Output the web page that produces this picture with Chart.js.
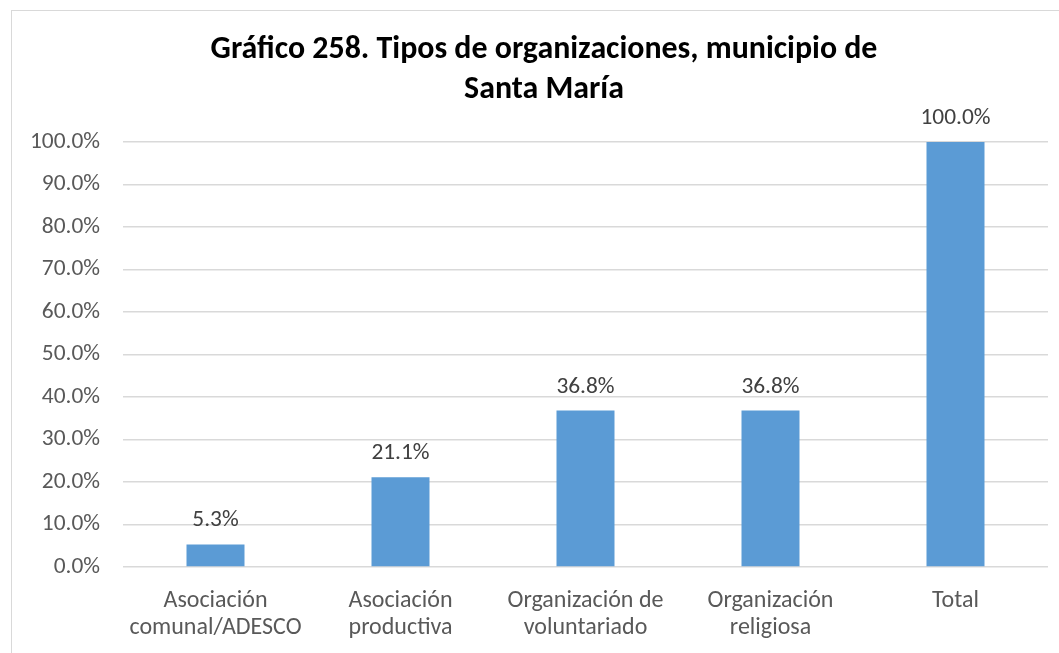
<!DOCTYPE html>
<html>
<head>
<meta charset="utf-8">
<script src="https://cdn.jsdelivr.net/npm/chart.js@4.4.0/dist/chart.umd.min.js"></script>
<style>
  html, body { margin: 0; padding: 0; background: #ffffff; overflow: hidden; }
  #wrap { position: relative; width: 1059px; height: 653px; }
  #frame { position: absolute; left: 11px; top: 10px; width: 1200px; height: 800px; border: 1px solid #d9d9d9; box-sizing: border-box; }
  #c { position: absolute; left: 0; top: 0; }
</style>
</head>
<body>
<div id="wrap">
  <div id="frame"></div>
  <canvas id="c" width="1059" height="653"></canvas>
</div>
<script>
const titleLines = ["Gráfico 258. Tipos de organizaciones, municipio de", "Santa María"];
const categories = [["Asociación", "comunal/ADESCO"], ["Asociación", "productiva"], ["Organización de", "voluntariado"], ["Organización", "religiosa"], ["Total"]];
const values = [5.3, 21.1, 36.8, 36.8, 100.0];
const yMin = 0, yMax = 100, yStep = 10;

const FONT = "Carlito, Lato, 'Open Sans', sans-serif";

// fit font sizes to the widths of reference texts
const mctx = document.createElement('canvas').getContext('2d');
function fitSize(text, target, weight) {
  mctx.font = (weight || '') + " 100px " + FONT;
  return Math.round(100 * target / mctx.measureText(text).width * 10) / 10;
}
const titleSize = fitSize(titleLines[0], 666, 'bold');
const tickSize = fitSize("100.0%", 70, '');
const xSize = fitSize("Organización de", 156, '');

// title centred on the chart frame (Excel-style), drawn above the plot
const titlePlugin = {
  id: 'frameTitle',
  afterDraw(chart) {
    const ctx = chart.ctx;
    ctx.save();
    ctx.font = "bold " + titleSize + "px " + FONT;
    ctx.fillStyle = "#000000";
    ctx.textAlign = "center";
    ctx.textBaseline = "middle";
    titleLines.forEach((line, i) => ctx.fillText(line, 544, 50 + i * 40));
    ctx.restore();
  }
};

const labelPlugin = {
  id: 'barLabels',
  afterDatasetsDraw(chart) {
    const ctx = chart.ctx;
    const meta = chart.getDatasetMeta(0);
    ctx.save();
    ctx.font = tickSize + "px " + FONT;
    ctx.fillStyle = "#404040";
    ctx.textAlign = "center";
    ctx.textBaseline = "alphabetic";
    meta.data.forEach((bar, i) => {
      ctx.fillText(values[i].toFixed(1) + "%", bar.x, bar.y - 18);
    });
    ctx.restore();
  }
};

new Chart(document.getElementById('c'), {
  type: 'bar',
  data: {
    labels: categories,
    datasets: [{
      data: values,
      backgroundColor: '#5b9bd5',
      borderWidth: 0,
      barPercentage: 0.627,
      categoryPercentage: 0.5
    }]
  },
  options: {
    responsive: false,
    animation: false,
    layout: { padding: { left: 0, right: 11, top: 142, bottom: 0 } },
    plugins: {
      legend: { display: false },
      tooltip: { enabled: false },
      title: { display: false }
    },
    scales: {
      x: {
        afterFit(scale) { scale.height = 86; },
        grid: { display: false, drawTicks: false },
        border: { display: false },
        ticks: { color: '#595959', font: { family: FONT, size: xSize, lineHeight: '27px' }, padding: 20, maxRotation: 0, autoSkip: false }
      },
      y: {
        min: yMin, max: yMax,
        afterFit(scale) { scale.width = 123; },
        grid: { color: '#d9d9d9', lineWidth: 1.5, drawTicks: false },
        border: { display: false },
        ticks: { stepSize: yStep, color: '#595959', font: { family: FONT, size: tickSize }, padding: 23,
          callback: v => v.toFixed(1) + "%" }
      }
    }
  },
  plugins: [labelPlugin, titlePlugin]
});
</script>
</body>
</html>
